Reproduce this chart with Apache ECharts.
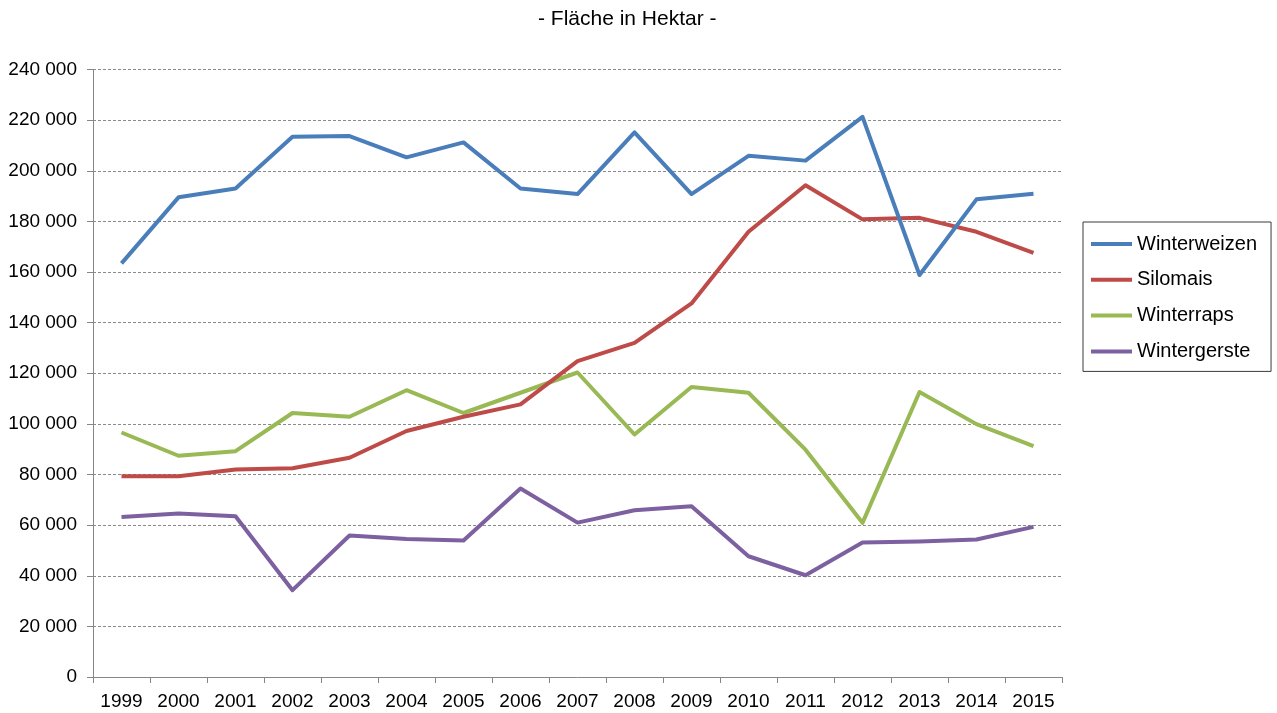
<!DOCTYPE html>
<html>
<head>
<meta charset="utf-8">
<script src="https://cdn.jsdelivr.net/npm/echarts@6/dist/echarts.min.js"></script>
<style>
html,body{margin:0;padding:0;background:#fff;}
#c{width:1277px;height:713px;}
</style>
</head>
<body>
<div id="c"></div>
<script>
const years = ['1999','2000','2001','2002','2003','2004','2005','2006','2007','2008','2009','2010','2011','2012','2013','2014','2015'];
const winterweizen = [163400,189500,193000,213400,213700,205300,211200,193000,190800,215200,190800,205900,204000,221300,158800,188700,190900];
const silomais     = [79300,79300,82000,82500,86600,97200,102800,107700,124800,132000,147600,175900,194300,180800,181400,175900,167600];
const winterraps   = [96600,87400,89200,104300,102800,113300,104300,112300,120300,95800,114600,112300,89800,60900,112600,99900,91200];
const wintergerste = [63200,64600,63500,34300,55900,54500,53900,74500,61000,65900,67500,47700,40200,53100,53500,54300,59300];
const seriesNames = ['Winterweizen','Silomais','Winterraps','Wintergerste'];
const seriesColors = ['#4A7EBB','#BE4B48','#98B954','#7D60A0'];
const titleText = '- Fläche in Hektar -';

const FONT = '"Liberation Sans", Arial, sans-serif';
function fmt(v){ return String(v).replace(/\B(?=(\d{3})+(?!\d))/g, ' '); }

const dataSets = [winterweizen, silomais, winterraps, wintergerste];
const chart = echarts.init(document.getElementById('c'), null, {renderer:'canvas'});
chart.setOption({
  animation: false,
  backgroundColor: '#ffffff',
  title: {
    text: titleText,
    left: 538, top: 9, padding: 0,
    textStyle: {fontFamily: FONT, fontSize: 21, fontWeight: 'normal', color: '#000'}
  },
  legend: {
    orient: 'vertical',
    left: 1083, top: 222,
    padding: [12, 14, 10, 8],
    itemWidth: 41, itemHeight: 20, itemGap: 15.8,
    borderColor: '#3a3a3a', borderWidth: 1,
    icon: 'path://M0,0 L41,0 L41,4 L0,4 Z',
    textStyle: {fontFamily: FONT, fontSize: 20, color: '#000', lineHeight: 20},
    data: seriesNames
  },
  grid: {left: 93, right: 215, top: 69.5, bottom: 36, containLabel: false},
  xAxis: {
    type: 'category',
    data: years,
    boundaryGap: true,
    axisLine: {lineStyle: {color: '#868686', width: 1}},
    axisTick: {show: true, length: 6, lineStyle: {color: '#868686'}},
    axisLabel: {fontFamily: FONT, fontSize: 19, color: '#000', margin: 15, interval: 0},
    splitLine: {show: false}
  },
  yAxis: {
    type: 'value',
    min: 0, max: 240000, interval: 20000,
    axisLine: {show: true, lineStyle: {color: '#868686', width: 1}},
    axisTick: {show: true, length: 6, lineStyle: {color: '#868686'}},
    axisLabel: {fontFamily: FONT, fontSize: 19, color: '#000', margin: 16, formatter: fmt},
    splitLine: {show: true, lineStyle: {color: '#8a8a8a', width: 1, type: [3, 2]}}
  },
  series: seriesNames.map((n, i) => ({
    name: n,
    type: 'line',
    data: dataSets[i],
    symbol: 'none',
    showSymbol: false,
    color: seriesColors[i],
    lineStyle: {width: 4, color: seriesColors[i], join: 'round'},
    z: 10 - i
  }))
});
</script>
</body>
</html>
